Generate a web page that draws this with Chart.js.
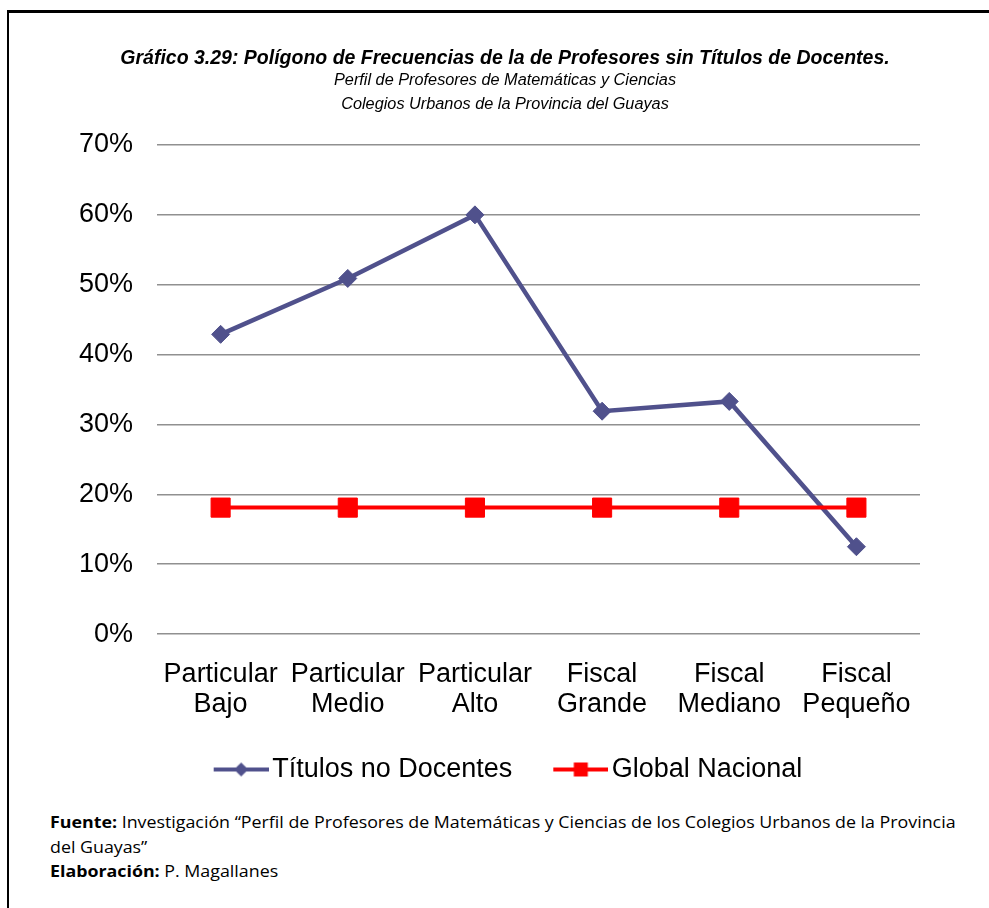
<!DOCTYPE html>
<html>
<head>
<meta charset="utf-8">
<script src="https://cdn.jsdelivr.net/npm/chart.js@4/dist/chart.umd.min.js"></script>
<style>
  body { margin: 0; background: #fff; }
  #lineTop { position: absolute; left: 7px; top: 10px; width: 982px; height: 3px; background: #000; }
  #lineLeft { position: absolute; left: 7px; top: 10px; width: 2px; height: 898px; background: #000; }
  #wrap { position: absolute; left: 0; top: 0; width: 989px; height: 800px; }
  .cab { position: absolute; left: 105px; width: 800px; text-align: center; color: #000; font-family: "Liberation Sans", Arial, sans-serif; font-style: italic; white-space: nowrap; }
  #titulo { top: 46px; font-size: 19.5px; font-weight: bold; line-height: 22px; }
  #sub { top: 67px; font-size: 16.3px; line-height: 24px; }
  #foot { position: absolute; left: 50px; top: 810px; font: 16px "Open Sans", sans-serif; line-height: 24.5px; color: #000;
          transform: scaleX(1.113); transform-origin: 0 0; white-space: nowrap; }
</style>
</head>
<body>
<div id="lineTop"></div>
<div id="lineLeft"></div>
<div id="wrap"><canvas id="poligono"></canvas></div>
<div class="cab" id="titulo">Gráfico 3.29: Polígono de Frecuencias de la de Profesores sin Títulos de Docentes.</div>
<div class="cab" id="sub">Perfil de Profesores de Matemáticas y Ciencias<br>Colegios Urbanos de la Provincia del Guayas</div>
<div id="foot">
  <b>Fuente:</b> Investigación “Perfil de Profesores de Matemáticas y Ciencias de los Colegios Urbanos de la Provincia<br>
  del Guayas”<br>
  <b>Elaboración:</b> P. Magallanes
</div>
<script>
// datos
let categorias = [['Particular', 'Bajo'], ['Particular', 'Medio'], ['Particular', 'Alto'],
                  ['Fiscal', 'Grande'], ['Fiscal', 'Mediano'], ['Fiscal', 'Pequeño']]
let titulosNoDocentes = [42.9, 50.9, 60.0, 31.9, 33.3, 12.5]
let globalNacional = [18.1, 18.1, 18.1, 18.1, 18.1, 18.1]
let nombres = ['Títulos no Docentes', 'Global Nacional']
let colores = ['#50518c', '#ff0000']

let fuente = '"Liberation Sans", Arial, sans-serif'

// icono de leyenda: linea con marcador, parte izquierda vacia como separacion
let icono = (color, estilo) => {
  let c = document.createElement('canvas')
  c.width = 106; c.height = 30
  let g = c.getContext('2d')
  g.strokeStyle = color
  g.fillStyle = color
  g.lineWidth = 4
  g.beginPath(); g.moveTo(51, 15); g.lineTo(106, 15); g.stroke()
  g.save()
  g.translate(78.5, 15)
  if (estilo === 'diamante') {
    g.rotate(Math.PI / 4)
    g.fillRect(-5, -5, 10, 10)
  } else {
    g.fillRect(-7, -7, 14, 14)
  }
  g.restore()
  return c
}
let iconos = [icono(colores[0], 'diamante'), icono(colores[1], 'cuadro')]

let ctx = document.getElementById('poligono').getContext('2d')
new Chart(ctx, {
  type: 'line',
  data: {
    labels: categorias,
    datasets: [{
      label: nombres[0],
      data: titulosNoDocentes,
      borderColor: colores[0],
      backgroundColor: colores[0],
      borderWidth: 4.5,
      pointStyle: 'rectRot',
      pointRadius: 9,
      pointHoverRadius: 9,
      pointBorderWidth: 1,
      tension: 0,
      order: 1
    }, {
      label: nombres[1],
      data: globalNacional,
      borderColor: colores[1],
      backgroundColor: colores[1],
      borderWidth: 4,
      pointStyle: 'rect',
      pointRadius: 13.5,
      pointHoverRadius: 13.5,
      pointBorderWidth: 1,
      tension: 0,
      order: 0
    }]
  },
  options: {
    responsive: true,
    maintainAspectRatio: false,
    animation: false,
    layout: { padding: { left: 55, right: 69, top: 145, bottom: 7 } },
    plugins: {
      tooltip: { enabled: false },
      legend: {
        position: 'bottom',
        labels: {
          color: '#000',
          font: { family: fuente, size: 27 },
          usePointStyle: true,
          pointStyleWidth: 86,
          padding: 0,
          generateLabels: chart => chart.data.datasets.map((ds, i) => ({
            text: ds.label,
            fillStyle: ds.backgroundColor,
            strokeStyle: ds.borderColor,
            lineWidth: 0,
            pointStyle: iconos[i],
            fontColor: '#000',
            datasetIndex: i,
            hidden: false
          }))
        }
      }
    },
    scales: {
      x: {
        offset: true,
        grid: { display: false, drawTicks: false },
        border: { display: false },
        ticks: {
          color: '#000',
          font: { family: fuente, size: 27, lineHeight: 1.11 },
          padding: 26,
          maxRotation: 0,
          autoSkip: false
        },
        afterFit: s => { s.height += 10 }
      },
      y: {
        min: 0,
        max: 70,
        grid: { color: '#909090', lineWidth: 1.5, drawTicks: false },
        border: { display: false },
        ticks: {
          stepSize: 10,
          color: '#000',
          font: { family: fuente, size: 27 },
          padding: 24,
          callback: v => v + '%'
        }
      }
    }
  }
})
</script>
</body>
</html>
